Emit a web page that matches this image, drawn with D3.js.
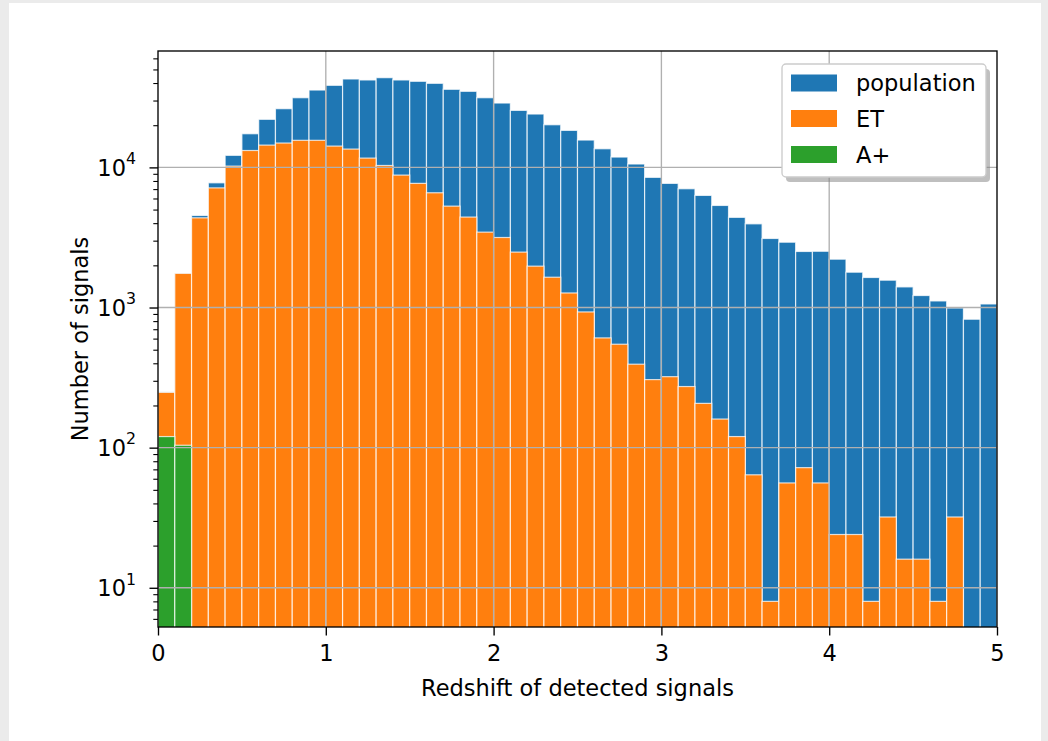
<!DOCTYPE html>
<html>
<head>
<meta charset="utf-8">
<script src="https://cdn.jsdelivr.net/npm/d3@7"></script>
<style>
  html, body { margin: 0; padding: 0; background: #ebebeb; }
  svg { display: block; }
  text { font-family: "DejaVu Sans", sans-serif; }
</style>
</head>
<body>
<svg id="chart" width="1048" height="741"></svg>
<script>
// ---- data (bins of width 0.1 from 0 to 5) ----
const binEdges = d3.range(0, 51).map(i => +(i * 0.1).toFixed(1));
const population = [250, 1760, 4540, 7760, 12190, 17380, 22030, 26240, 31420, 35640,
  38520, 42740, 42050, 43680, 42050, 41150, 39810, 36080, 34900, 31420,
  28790, 25520, 24030, 20150, 18370, 15670, 13580, 11850, 10570, 8490,
  7690, 7040, 6310, 5350, 4400, 3955, 3110, 2925, 2512, 2520,
  2213, 1787, 1638, 1567, 1403, 1218, 1114, 993, 825, 1060];
const et = [248, 1752, 4365, 7140, 10210, 13200, 14420, 14920, 15600, 15600,
  14190, 13510, 11650, 10320, 8810, 7690, 6590, 5290, 4420, 3450,
  3160, 2485, 1973, 1645, 1270, 930, 607, 547, 394, 306,
  321, 273, 207, 160, 120, 64, 8, 56, 72, 56,
  24, 24, 8, 32, 16, 16, 8, 32, 0, 0];
const aplus = [120, 104, 0, 0, 0, 0, 0, 0, 0, 0,
  0, 0, 0, 0, 0, 0, 0, 0, 0, 0,
  0, 0, 0, 0, 0, 0, 0, 0, 0, 0,
  0, 0, 0, 0, 0, 0, 0, 0, 0, 0,
  0, 0, 0, 0, 0, 0, 0, 0, 0, 0];
const seriesNames = ["population", "ET", "A+"];
const seriesColors = ["#1f77b4", "#ff7f0e", "#2ca02c"];
const xTicks = [0, 1, 2, 3, 4, 5];
const yMajorTicks = [10, 100, 1000, 10000];
const xLabel = "Redshift of detected signals";
const yLabel = "Number of signals";

// ---- layout ----
const svg = d3.select("#chart");
const L = 158, R = 997, T = 51, B = 627;
const FS = 22.5;

svg.append("rect").attr("x", 9).attr("y", 3).attr("width", 1032).attr("height", 738).attr("fill", "#fff");

const x = d3.scaleLinear().domain([0, 5]).range([L, R]);
const y = d3.scaleLog().domain([5.25, 67700]).range([B, T]);

svg.append("clipPath").attr("id", "clip")
  .append("rect").attr("x", L).attr("y", T).attr("width", R - L).attr("height", B - T);

const plot = svg.append("g").attr("clip-path", "url(#clip)");

const allSeries = [population, et, aplus];
allSeries.forEach((vals, si) => {
  const data = vals.map((v, i) => ({ x0: binEdges[i], x1: binEdges[i + 1], v })).filter(d => d.v > 0);
  plot.append("g").selectAll("rect").data(data).join("rect")
    .attr("x", d => x(d.x0))
    .attr("width", d => x(d.x1) - x(d.x0))
    .attr("y", d => y(d.v))
    .attr("height", d => B + 2 - y(d.v))
    .attr("fill", seriesColors[si])
    .attr("stroke", "rgba(255,255,255,0.75)")
    .attr("stroke-width", 1.2);
});

// grid (above bars)
const grid = svg.append("g");
grid.selectAll("line.gx").data(xTicks.slice(1, -1)).join("line")
  .attr("x1", d => x(d)).attr("x2", d => x(d)).attr("y1", T).attr("y2", B)
  .attr("stroke", "#b0b0b0").attr("stroke-width", 1.35);
grid.selectAll("line.gy").data(yMajorTicks).join("line")
  .attr("x1", L).attr("x2", R).attr("y1", d => y(d)).attr("y2", d => y(d))
  .attr("stroke", "#b0b0b0").attr("stroke-width", 1.35);

// axes
const xAxis = svg.append("g").attr("transform", `translate(0,${B})`)
  .call(d3.axisBottom(x).tickValues(xTicks).tickFormat(d3.format("d")).tickSize(8.5).tickPadding(10));
xAxis.select(".domain").remove();
xAxis.selectAll("line").attr("stroke", "#000").attr("stroke-width", 1.35);
xAxis.selectAll("text").attr("font-size", FS).attr("fill", "#000").attr("font-family", "DejaVu Sans");

const minorVals = [];
for (let p = 0; p <= 4; p++) for (let m = 2; m <= 9; m++) {
  const v = m * Math.pow(10, p);
  if (v >= 5.25 && v <= 67700) minorVals.push(v);
}
const yMinor = svg.append("g").attr("transform", `translate(${L},0)`)
  .call(d3.axisLeft(y).tickValues(minorVals).tickFormat("").tickSize(4.7));
yMinor.select(".domain").remove();
yMinor.selectAll("line").attr("stroke", "#000").attr("stroke-width", 1.1);

const yAxis = svg.append("g").attr("transform", `translate(${L},0)`)
  .call(d3.axisLeft(y).tickValues(yMajorTicks).tickFormat(d => String(Math.round(Math.log10(d)))).tickSize(8.5).tickPadding(8));
yAxis.select(".domain").remove();
yAxis.selectAll("line").attr("stroke", "#000").attr("stroke-width", 1.35);
yAxis.selectAll("text").each(function () {
  const t = d3.select(this);
  const e = t.text();
  t.text("").attr("font-size", FS).attr("fill", "#000").attr("font-family", "DejaVu Sans").attr("dy", "0.36em").attr("x", -22);
  t.append("tspan").text("10");
  t.append("tspan").attr("font-size", FS * 0.7).attr("dy", "-0.75em").text(e);
});

// frame
svg.append("rect").attr("x", L).attr("y", T).attr("width", R - L).attr("height", B - T)
  .attr("fill", "none").attr("stroke", "#000").attr("stroke-width", 1.35);

// labels
svg.append("text").attr("x", (L + R) / 2).attr("y", 696).attr("text-anchor", "middle")
  .attr("font-size", FS).attr("fill", "#000").text(xLabel);
svg.append("text").attr("transform", `translate(88,${(T + B) / 2}) rotate(-90)`).attr("text-anchor", "middle")
  .attr("font-size", FS).attr("fill", "#000").text(yLabel);

// legend
const lg = svg.append("g");
lg.append("rect").attr("x", 786).attr("y", 69).attr("width", 204).attr("height", 113).attr("rx", 4)
  .attr("fill", "#808080").attr("opacity", 0.5);
lg.append("rect").attr("x", 782).attr("y", 64).attr("width", 204).attr("height", 113).attr("rx", 4)
  .attr("fill", "#fff").attr("stroke", "#cccccc").attr("stroke-width", 1.35);
const rowY = [83, 118.5, 154.5];
seriesNames.forEach((n, i) => {
  lg.append("rect").attr("x", 791).attr("y", rowY[i] - 8.5).attr("width", 46).attr("height", 17).attr("fill", seriesColors[i]);
  lg.append("text").attr("x", 856).attr("y", rowY[i]).attr("dy", "0.36em")
    .attr("font-size", FS).attr("fill", "#000").text(n);
});
</script>
</body>
</html>
